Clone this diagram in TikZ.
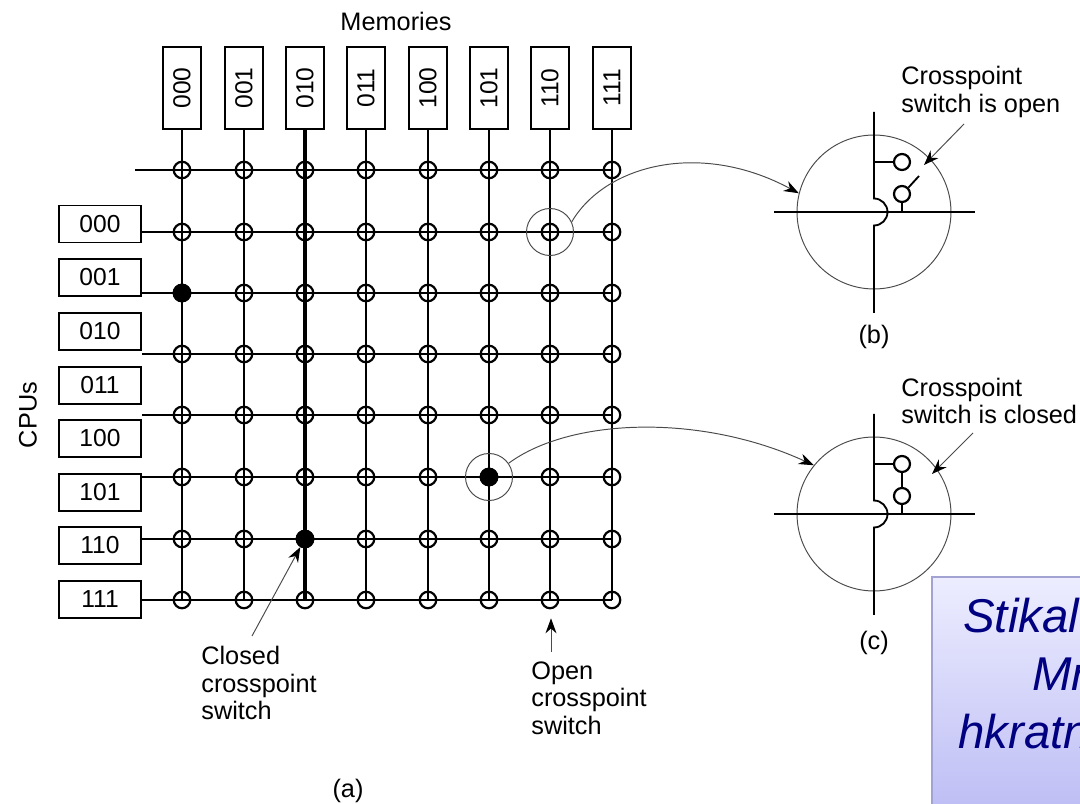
\documentclass[tikz,border=0pt]{standalone}
\usepackage{fontspec}
\setmainfont{Liberation Sans}
\usetikzlibrary{arrows.meta}
\definecolor{notetop}{HTML}{EDEDFF}
\definecolor{notebottom}{HTML}{BEBEF5}
\definecolor{noteedge}{HTML}{A3A3D3}
\definecolor{notetext}{HTML}{000080}
\definecolor{thinline}{HTML}{4A4A4A}
\tikzset{
	label text/.style={font=\fontsize{14.4}{15.6}\selectfont,align=left,inner sep=0pt},
	mem box/.style={draw,line width=1.1pt,rotate=90,minimum width=1.64cm,minimum height=0.76cm,inner sep=0pt,font=\fontsize{14}{16}\selectfont},
	cpu box/.style={draw,line width=1.1pt,minimum width=1.64cm,minimum height=0.74cm,inner sep=0pt,font=\fontsize{14}{16}\selectfont},
	wire/.style={line width=1.05pt},
	xpoint/.style={circle,draw,line width=1.25pt,minimum size=0.33cm,inner sep=0pt},
	xpoint closed/.style={xpoint,fill=black},
	small switch/.style={circle,draw,line width=1.25pt,minimum size=0.32cm,inner sep=0pt},
	ring/.style={circle,draw=thinline,line width=0.55pt,inner sep=0pt},
	pointer/.style={draw=thinline,line width=0.55pt,-{Stealth[length=0.3cm,width=0.22cm,color=black]}},
	note/.style={font=\fontsize{27}{32}\selectfont\itshape,text=notetext,inner sep=0pt,anchor=base west}
}

\begin{document}
\begin{tikzpicture}[x=0.02cm,y=-0.02cm]
	\useasboundingbox (0,0) rectangle (1080,804);

	\foreach \x/\name [count=\i from 0] in {182/000,244/001,305/010,366/011,428/100,489/101,550/110,612/111}{
		\node[mem box] (mem\i) at (\x,88) {\name};
		\foreach \y [count=\j from 0] in {170,232,293,354,415,477,539,600}
			\node[xpoint] (xp-\i-\j) at (\x,\y) {};
	}
	\foreach \y/\name [count=\j from 0] in {224/000,277.5/001,331.5/010,385.5/011,438.5/100,492.5/101,545.5/110,599.5/111}
		\node[cpu box] (cpu\j) at (100,\y) {\name};

	\coordinate (firstrow) at (135,170);
	\draw[wire] (firstrow) -- (xp-7-0.center);
	\foreach \j in {1,...,7}
		\draw[wire] (cpu0.east |- xp-0-\j.center) -- (xp-7-\j.center);
	\foreach \i in {0,1,3,4,5,6,7}
		\draw[wire] (mem\i.west) -- (xp-\i-7.center);
	\draw[line width=1.9pt] (mem2.west) -- (xp-2-7.center);

	\foreach \i/\j in {0/2,2/6,5/5}
		\node[xpoint closed] at (xp-\i-\j) {};

	\node[ring,minimum size=0.94cm] (ringb) at (xp-6-1) {};
	\node[ring,minimum size=0.94cm] (ringc) at (xp-5-5) {};

	\node[label text,anchor=center] (memories) at (396,21) {Memories};
	\node[label text,rotate=90] (cpus) at (28,415) {CPUs};
	\node[label text] (capa) at (348,791) {(a)};
	\node[label text,anchor=west] (closedlabel) at (201,683) {Closed\\crosspoint\\switch};
	\node[label text,anchor=west] (openlabel) at (531,698) {Open\\crosspoint\\switch};

	\coordinate (closedtail) at (252,636);
	\coordinate (opentail) at (551,652);
	\draw[pointer] (closedtail) -- (xp-2-6.240);
	\draw[pointer,shorten >=0.18cm] (opentail) -- (opentail |- xp-6-7.south);

	\foreach \n/\y in {b/212,c/514}{
		\node[ring,minimum size=3.08cm] (inset\n) at (874,\y) {};
		\node[small switch] (sw\n1) at (902,\y-50) {};
		\node[small switch] (sw\n2) at (902,\y-18) {};
		\draw[wire] (774,\y) -- (975,\y);
		\draw[wire] (874,\y-100) -- (874,\y-13.5) arc[start angle=90,end angle=-90,radius=0.27cm] -- (874,\y+101);
		\draw[wire] (sw\n1.west) -- (sw\n1.west -| inset\n.center);
		\draw[wire] (sw\n2.south) -- (sw\n2.south |- inset\n.center);
	}
	\coordinate (levertip) at (919,176);
	\draw[wire] (swb2.45) -- (levertip);
	\draw[wire] (swc1.south) -- (swc2.north);

	\draw[pointer] (ringb.25) .. controls (605,165) and (700,140) .. (insetb.166);
	\draw[pointer] (ringc.35) .. controls (570,418) and (700,413) .. (insetc.141);

	\node[label text,anchor=west] (openhead) at (901,92) {Crosspoint\\switch is open};
	\node[label text,anchor=west] (closedhead) at (901,401) {Crosspoint\\switch is closed};
	\node[label text] (capb) at (874,337) {(b)};
	\node[label text] (capc) at (874,643) {(c)};

	\coordinate (opentop) at (964,124);
	\coordinate (closedtop) at (973,433);
	\draw[pointer] (opentop) -- (924,165);
	\draw[pointer] (closedtop) -- (932,474);

	\node[draw=noteedge,line width=1.1pt,top color=notetop,bottom color=notebottom,anchor=north west,minimum width=3.04cm,minimum height=4.62cm,inner sep=0pt] (notebox) at (931,576) {};
	\node[note] (noteone) at (963,633) {Stikal};
	\node[note] (notetwo) at (1032,690) {Mr};
	\node[note] (notethree) at (958,748) {hkratn};
\end{tikzpicture}
\end{document}
